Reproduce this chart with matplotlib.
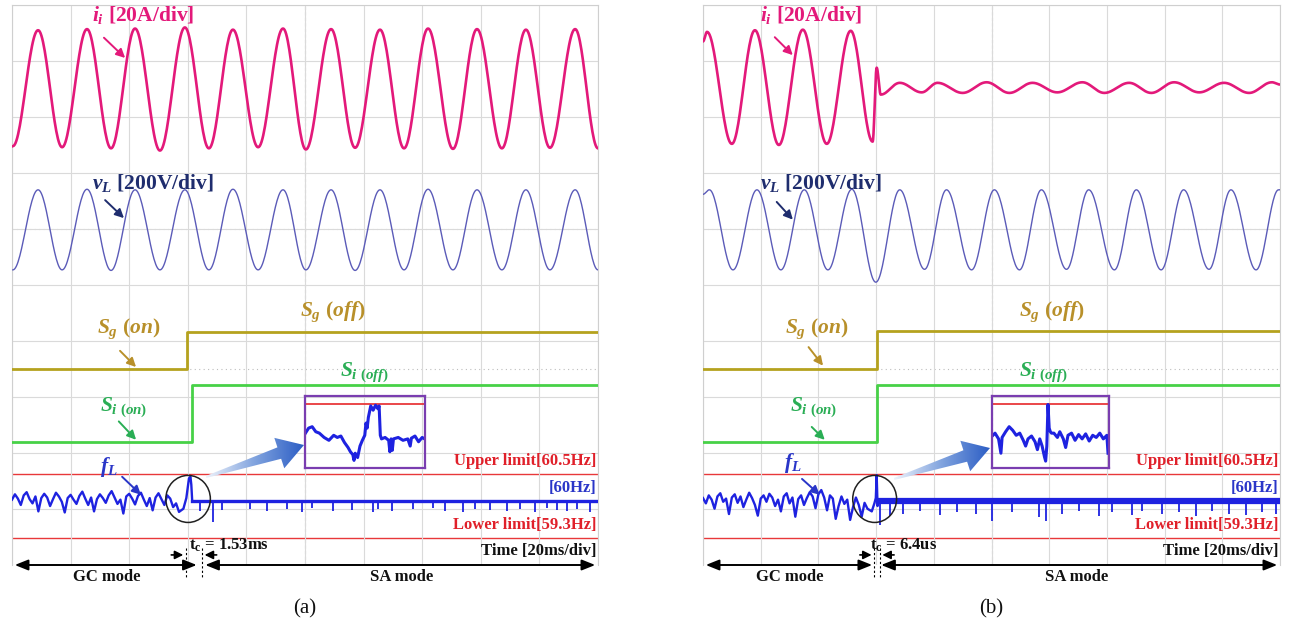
import numpy as np
import matplotlib
matplotlib.use('Agg')
import matplotlib.pyplot as plt
from matplotlib.patches import Ellipse, Polygon
from matplotlib.colors import LinearSegmentedColormap

plt.rcParams['font.family'] = ['Liberation Serif', 'DejaVu Serif']
plt.rcParams['mathtext.fontset'] = 'custom'
plt.rcParams['mathtext.rm'] = 'Liberation Serif:bold'
plt.rcParams['mathtext.it'] = 'Liberation Serif:italic:bold'
plt.rcParams['mathtext.bf'] = 'Liberation Serif:bold'

# ── waveform extrema read from the screen (time in ms, level in div) ──
# panel (a)
ia_t = [0.3, 8.9, 17.1, 25.6, 33.8, 42.0, 50.5, 59.0, 67.2, 75.4, 84.0, 92.5, 100.3,
        108.9, 117.1, 125.6, 133.8, 142.0, 150.5, 158.7, 167.2, 175.4, 183.6, 192.2, 200.0]
ia_v = [7.48, 9.55, 7.46, 9.57, 7.44, 9.58, 7.40, 9.60, 7.44, 9.56, 7.46, 9.58, 7.42,
        9.57, 7.45, 9.56, 7.44, 9.58, 7.43, 9.57, 7.44, 9.56, 7.45, 9.57, 7.44]
va_t = ia_t
va_v = [5.27, 6.70, 5.27, 6.71, 5.26, 6.70, 5.27, 6.70, 5.27, 6.71, 5.27, 6.70, 5.27,
        6.70, 5.26, 6.70, 5.27, 6.71, 5.27, 6.70, 5.27, 6.70, 5.27, 6.70, 5.27]
sg_a_t = [0.0, 59.7, 200.0]
sg_a_v = [3.50, 4.16, 4.16]
si_a_t = [0.0, 61.4, 200.0]
si_a_v = [2.20, 3.21, 3.21]

# panel (b)
ib_t = [0.0, 1.4, 10.0, 18.0, 26.3, 34.6, 42.9, 51.2, 58.8, 60.2, 61.6, 68.2, 75.8,
        81.3, 90.0, 98.3, 106.2, 114.2, 122.8, 131.5, 139.1, 147.7, 155.4, 163.3,
        172.0, 180.6, 189.3, 197.2, 200.0]
ib_v = [9.35, 9.52, 7.52, 9.55, 7.50, 9.56, 7.52, 9.54, 7.56, 8.88, 8.40, 8.61, 8.44,
        8.61, 8.43, 8.62, 8.43, 8.61, 8.44, 8.62, 8.43, 8.61, 8.43, 8.62,
        8.44, 8.61, 8.43, 8.62, 8.58]
vb_t = [0.0, 2.2, 10.4, 18.7, 27.0, 35.1, 43.3, 51.6, 59.9, 68.2, 76.8, 84.4, 93.1,
        101.0, 109.7, 117.3, 126.0, 133.7, 142.6, 150.2, 158.8, 166.6, 175.4, 183.0,
        191.7, 199.5, 200.0]
vb_v = [6.62, 6.70, 5.27, 6.70, 5.27, 6.70, 5.27, 6.71, 5.05, 6.70, 5.28, 6.70, 5.27,
        6.70, 5.27, 6.70, 5.28, 6.70, 5.27, 6.70, 5.27, 6.70, 5.28, 6.70,
        5.27, 6.70, 6.70]
sg_b_t = [0.0, 60.2, 200.0]
sg_b_v = [3.50, 4.18, 4.18]
si_b_t = [0.0, 60.2, 200.0]
si_b_v = [2.20, 3.21, 3.21]

# ── f_L samples in Hz (GC mode, 1 ms apart), transition and SA spikes ──
fa_gc = [60.02, 60.12, 60.04, 59.92, 60.10, 60.16, 60.03, 59.95, 60.08, 59.80,
         60.05, 60.13, 60.06, 59.90, 60.03, 60.15, 60.08, 59.98, 59.78, 60.05,
         60.11, 60.02, 59.94, 60.09, 60.17, 60.04, 59.92, 60.06, 59.80, 60.03,
         60.12, 60.05, 59.96, 60.10, 60.18, 60.06, 59.94, 60.02, 59.76, 60.08,
         60.13, 60.04, 59.93, 60.09, 60.15, 60.02, 59.90, 60.05, 59.82, 60.06,
         60.14, 60.03, 59.92, 60.10, 60.04, 59.88, 59.95, 59.79]
fa_tr_t = [58.5, 59.5, 60.4, 60.9, 61.2, 61.5]
fa_tr_f = [59.85, 60.05, 60.42, 60.45, 60.30, 60.00]
sa_a_t = [64.2, 68.6, 71.7, 81.2, 87.0, 93.9, 99.0, 102.4, 109.6, 116.0, 123.2, 124.9,
          129.7, 136.9, 143.7, 147.8, 153.9, 158.0, 163.1, 168.9, 173.4, 178.5,
          182.6, 186.0, 189.4, 192.8, 197.3]
sa_a_f = [59.80, 59.60, 59.82, 59.85, 59.80, 59.84, 59.78, 59.86, 59.80, 59.83, 59.78,
          59.85, 59.80, 59.84, 59.86, 59.80, 59.78, 59.85, 59.82, 59.80, 59.84, 59.79,
          59.86, 59.82, 59.80, 59.84, 59.78]

fb_gc = [60.05, 59.95, 60.10, 60.02, 59.85, 60.08, 60.14, 59.98, 60.04, 59.75,
         60.06, 60.12, 59.96, 60.08, 59.88, 60.02, 60.15, 60.05, 59.92, 59.72,
         60.04, 60.10, 59.98, 60.13, 60.06, 59.90, 60.02, 59.80, 60.08, 60.14,
         59.95, 60.06, 59.70, 60.03, 60.10, 59.92, 60.05, 60.16, 60.08, 59.86,
         60.12, 60.20, 60.06, 59.82, 60.10, 60.04, 59.66, 59.90, 60.08, 59.94,
         60.02, 59.64, 59.88, 60.06, 59.92, 59.70, 59.96, 59.85]
fb_tr_t = [58.5, 59.4, 59.9, 60.2, 60.5, 61.0]
fb_tr_f = [59.80, 59.95, 60.05, 60.48, 59.90, 60.00]
sa_b_t = [61.2, 64.7, 69.2, 75.1, 82.0, 87.9, 94.8, 100.3, 107.2, 116.6, 119.0, 124.6,
          130.5, 137.4, 141.9, 148.8, 152.2, 159.2, 165.0, 170.9, 176.5, 182.3,
          188.2, 193.8, 198.6]
sa_b_f = [59.55, 59.72, 59.75, 59.80, 59.74, 59.78, 59.76, 59.62, 59.78, 59.70, 59.62,
          59.76, 59.80, 59.72, 59.78, 59.74, 59.80, 59.75, 59.78, 59.72, 59.80, 59.76,
          59.74, 59.78, 59.75]

upper_hz, lower_hz = 60.5, 59.3

# zoomed views (box-relative 0..100 / 0..1)
zin_a_x = [0, 3, 6, 9, 12, 16, 20, 24, 27, 30, 33, 36, 38, 40, 41, 42, 44, 46, 48, 50,
           51, 52, 53, 54, 55, 57, 59, 61, 62, 63, 64, 67, 70, 71, 72, 73, 74, 78,
           82, 86, 88, 89, 92, 95, 98, 100]
zin_a_y = [0.47, 0.55, 0.57, 0.50, 0.48, 0.42, 0.38, 0.45, 0.42, 0.44, 0.35, 0.28,
           0.22, 0.18, 0.10, 0.20, 0.14, 0.30, 0.38, 0.45, 0.62, 0.55, 0.70, 0.78,
           0.86, 0.80, 0.87, 0.82, 0.86, 0.45, 0.40, 0.42, 0.38, 0.22, 0.40, 0.24,
           0.40, 0.42, 0.38, 0.40, 0.30, 0.41, 0.44, 0.36, 0.42, 0.40]
zin_b_x = [0, 3, 6, 8, 9, 12, 15, 18, 21, 24, 27, 29, 31, 34, 37, 39, 41, 43, 45, 46,
           47, 48, 49, 50, 51, 53, 56, 58, 61, 63, 65, 68, 71, 74, 77, 80, 83, 86,
           89, 92, 95, 98, 99]
zin_b_y = [0.43, 0.48, 0.40, 0.20, 0.42, 0.50, 0.57, 0.52, 0.45, 0.48, 0.38, 0.30,
           0.40, 0.44, 0.36, 0.25, 0.40, 0.30, 0.15, 0.09, 0.30, 0.88, 0.55, 0.50,
           0.48, 0.48, 0.42, 0.50, 0.40, 0.28, 0.45, 0.48, 0.38, 0.46, 0.40, 0.47,
           0.37, 0.45, 0.42, 0.48, 0.40, 0.45, 0.20]

# ── colours ──
C_I = '#E3197A'
C_V = '#5B5BB8'
C_VT = '#1F2D6E'
C_SG = '#B5A21E'
C_SGT = '#B8902A'
C_SI = '#47D147'
C_SIT = '#2AAE55'
C_F = '#1E22E0'
C_FT = '#2A36C8'
C_RED = '#E8383A'
C_RT = '#E0202A'
C_BOX = '#7A3DB0'


def wave(ts, vs, n=30):
    xs, ys = [], []
    for k in range(len(ts) - 1):
        s = np.linspace(0, 1, n)
        xs.append(ts[k] + (ts[k + 1] - ts[k]) * s)
        ys.append(vs[k] + (vs[k + 1] - vs[k]) * (1 - np.cos(np.pi * s)) / 2)
    return np.concatenate(xs), np.concatenate(ys)


def fdiv(f):
    return 1.148 + (np.asarray(f, dtype=float) - 60.0) * 0.952


fig = plt.figure(figsize=(12.9, 6.21), dpi=100)
fig.patch.set_facecolor('white')
axa = fig.add_axes([12 / 1290, 56 / 621, 586 / 1290, 560 / 621])
axb = fig.add_axes([703 / 1290, 56 / 621, 577 / 1290, 560 / 621])

LBL = dict(fontsize=15.5, fontweight='bold', va='center', ha='left', zorder=6)
SMALL = dict(fontsize=12, fontweight='bold', va='center', zorder=6)


def draw_panel(ax, I, V, SG, SI, fgc, ftr, band_lw, spikes, sw, zin, pos, tc_text, tc_pair, tag):
    ax.set_xlim(0, 200)
    ax.set_ylim(0, 10)
    ax.set_xticks(np.arange(0, 201, 20))
    ax.set_yticks(np.arange(0, 11, 1))
    ax.grid(True, color='#dadada', lw=0.8, zorder=0)
    ax.tick_params(length=0, labelbottom=False, labelleft=False)
    for s in ['top', 'left', 'right']:
        ax.spines[s].set_color('#cfcfcf')
    ax.spines['bottom'].set_visible(False)
    ax.axvline(100, color='#b0b0b0', lw=0.8, ls=(0, (3, 2)), zorder=0.5)
    for yy in [6.0, 3.5]:
        ax.axhline(yy, color='#bdbdbd', lw=0.8, ls=(0, (1, 3)), zorder=0.5)

    # traces
    x, y = wave(*I)
    ax.plot(x, y, color=C_I, lw=1.9, zorder=3)
    x, y = wave(*V)
    ax.plot(x, y, color=C_V, lw=1.0, zorder=3)
    ax.step(SG[0], SG[1], where='post', color=C_SG, lw=2.0, zorder=3)
    ax.step(SI[0], SI[1], where='post', color=C_SI, lw=2.0, zorder=3)

    # frequency
    ax.axhline(fdiv(upper_hz), color=C_RED, lw=1.0, zorder=1)
    ax.axhline(fdiv(lower_hz), color=C_RED, lw=1.0, zorder=1)
    t_gc = np.arange(len(fgc))
    ax.plot(np.r_[t_gc, ftr[0]], fdiv(np.r_[fgc, ftr[1]]), color=C_F, lw=1.7, zorder=3)
    ax.plot([ftr[0][-1], 200], fdiv([60.0, 60.0]), color=C_F, lw=band_lw, zorder=3)
    ax.vlines(spikes[0], fdiv(60.0), fdiv(spikes[1]), color=C_F, lw=1.3, zorder=3)

    # circle around the switching instant
    ax.add_patch(Ellipse((sw, 1.18), 15.2, 0.84, fill=False, ec='#202020', lw=1.1, zorder=4))

    # zoom box
    zb = ax.inset_axes([100, 1.74, 40.8, 1.28], transform=ax.transData)
    zb.set_xlim(0, 100)
    zb.set_ylim(0, 1)
    zb.set_facecolor('none')
    zb.set_xticks([])
    zb.set_yticks([])
    for s in zb.spines.values():
        s.set_color(C_BOX)
        s.set_linewidth(1.6)
    zb.axhline(0.89, color=C_RED, lw=1.3)
    zb.plot(zin[0], zin[1], color=C_F, lw=2.2)

    # labels
    def lab(txt, p, c, arrow=None):
        ax.text(p[0], p[1], txt, color=c, **LBL)
        if arrow:
            ax.annotate('', xy=arrow[1], xytext=arrow[0],
                        arrowprops=dict(arrowstyle='-|>', color=c, lw=1.4, mutation_scale=13),
                        zorder=6)

    lab(r'$i_i$ [20A/div]', pos['i'], C_I, pos['ia'])
    lab(r'$v_L$ [200V/div]', pos['v'], C_VT, pos['va'])
    lab(r'$S_g\ (on)$', pos['sgon'], C_SGT, pos['sga'])
    lab(r'$S_g\ (off)$', pos['sgoff'], C_SGT)
    lab(r'$S_{i\ (off)}$', pos['sioff'], C_SIT)
    lab(r'$S_{i\ (on)}$', pos['sion'], C_SIT, pos['sia'])
    lab(r'$f_L$', pos['f'], C_FT, pos['fa'])

    ax.text(199.5, 1.86, 'Upper limit[60.5Hz]', color=C_RT, ha='right', **SMALL)
    ax.text(199.5, 1.375, '[60Hz]', color=C_FT, ha='right', **SMALL)
    ax.text(199.5, 0.71, 'Lower limit[59.3Hz]', color=C_RT, ha='right', **SMALL)
    ax.text(199.5, 0.25, 'Time [20ms/div]', color='#111111', ha='right', **SMALL)

    # bottom mode arrows and t_c markers
    arr = dict(arrowstyle='<|-|>,head_length=0.8,head_width=0.32', color='black', lw=1.4)
    ax.annotate('', xy=(0, 0), xytext=(pos['gc_end'], 0), arrowprops=arr, annotation_clip=False)
    ax.annotate('', xy=(pos['sa_start'], 0), xytext=(200, 0), arrowprops=arr, annotation_clip=False)
    small = dict(arrowstyle='-|>,head_length=0.5,head_width=0.25', color='black', lw=1.2)
    ax.annotate('', xy=(tc_pair[0], 0.18), xytext=(tc_pair[0] - 6, 0.18),
                arrowprops=small, annotation_clip=False)
    ax.annotate('', xy=(tc_pair[1], 0.18), xytext=(tc_pair[1] + 6, 0.18),
                arrowprops=small, annotation_clip=False)
    for tt in tc_pair:
        ax.plot([tt, tt], [0.30, -0.22], color='black', lw=0.8, ls=(0, (2, 2)),
                clip_on=False, zorder=5)
    ax.text(pos['tc'], 0.36, tc_text, color='#111111', ha='left', **SMALL)
    ax.text(pos['gc'], -0.22, 'GC mode', color='#111111', ha='center', clip_on=False, **SMALL)
    ax.text(pos['sa'], -0.22, 'SA mode', color='#111111', ha='center', clip_on=False, **SMALL)
    ax.text(100, -0.78, tag, fontsize=15, ha='center', va='center', color='#111111')


pos_a = dict(i=(27.3, 9.82), ia=((30.7, 9.45), (39.3, 9.02)),
             v=(27.3, 6.83), va=((31.1, 6.55), (38.9, 6.16)),
             sgon=(29.0, 4.22), sga=((36.2, 3.86), (43.0, 3.50)),
             sgoff=(98.3, 4.52), sioff=(112.0, 3.45),
             sion=(30.0, 2.82), sia=((35.8, 2.60), (43.0, 2.20)),
             f=(30.0, 1.75), fa=((36.9, 1.61), (44.7, 1.22)),
             tc=60.3, gc_end=64.0, sa_start=65.0, gc=32.4, sa=133.1)
pos_b = dict(i=(19.7, 9.82), ia=((24.2, 9.46), (31.8, 9.07)),
             v=(19.7, 6.83), va=((24.9, 6.52), (31.8, 6.13)),
             sgon=(28.4, 4.22), sga=((36.0, 3.93), (42.2, 3.52)),
             sgoff=(109.7, 4.52), sioff=(109.7, 3.45),
             sion=(30.1, 2.82), sia=((37.0, 2.50), (42.9, 2.20)),
             f=(28.0, 1.82), fa=((33.6, 1.57), (41.2, 1.22)),
             tc=57.8, gc_end=59.6, sa_start=60.8, gc=30.1, sa=129.4)

draw_panel(axa, (ia_t, ia_v), (va_t, va_v), (sg_a_t, sg_a_v), (si_a_t, si_a_v),
           fa_gc, (fa_tr_t, fa_tr_f), 2.4, (sa_a_t, sa_a_f), 60.1,
           (zin_a_x, zin_a_y), pos_a, r't$_\mathrm{c}$ = 1.53ms', (59.4, 64.8), '(a)')
draw_panel(axb, (ib_t, ib_v), (vb_t, vb_v), (sg_b_t, sg_b_v), (si_b_t, si_b_v),
           fb_gc, (fb_tr_t, fb_tr_f), 4.5, (sa_b_t, sa_b_f), 59.5,
           (zin_b_x, zin_b_y), pos_b, r't$_\mathrm{c}$ = 6.4us', (59.4, 61.2), '(b)')

# ── gradient arrows from the circle to the zoom box (figure pixels) ──
ov = fig.add_axes([0, 0, 1, 1], zorder=10)
ov.set_facecolor('none')
ov.axis('off')
cmap = LinearSegmentedColormap.from_list('arr', ['#eef3fb', '#7fa2de', '#2a5cc4'])
for tail, tip in [((206, 477), (304, 445)), ((894, 479), (990, 448))]:
    T = np.array(tail, float)
    H = np.array(tip, float)
    d = (H - T) / np.hypot(*(H - T))
    n = np.array([-d[1], d[0]])
    B = H - d * 26
    pts = [T + n * 1, B + n * 6, B + n * 16, H, B - n * 16, B - n * 6, T - n * 1]
    poly = Polygon(pts, closed=True, fc='none', ec='none')
    ov.add_patch(poly)
    xs = [p[0] for p in pts]
    ys = [p[1] for p in pts]
    im = ov.imshow(np.linspace(0, 1, 256)[None, :], cmap=cmap, aspect='auto',
                   extent=(min(xs), max(xs), max(ys), min(ys)))
    im.set_clip_path(poly)
ov.set_xlim(0, 1290)
ov.set_ylim(621, 0)

fig.savefig('out.png', dpi=100, facecolor='white')
